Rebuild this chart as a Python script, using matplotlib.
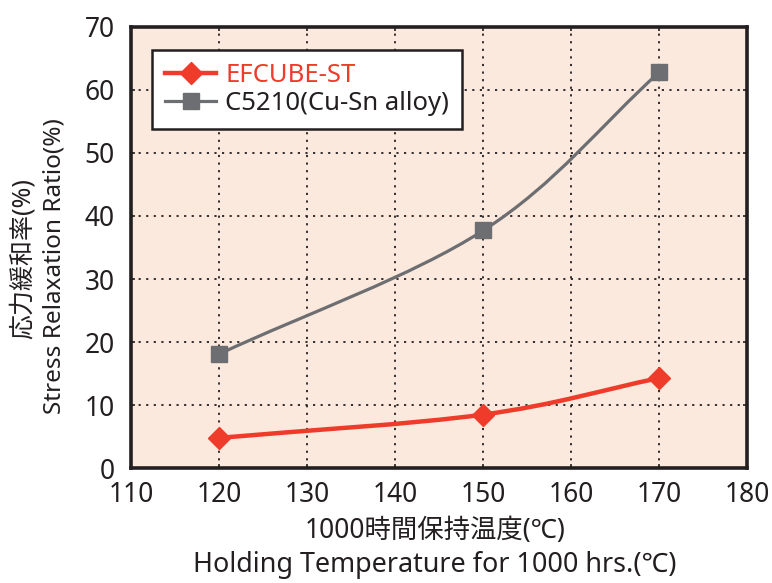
import numpy as np
import matplotlib
matplotlib.use("Agg")
import matplotlib.pyplot as plt
from matplotlib.path import Path
from matplotlib.patches import PathPatch
from matplotlib.lines import Line2D

plt.rcParams['font.family'] = ['Noto Sans', 'Noto Sans CJK JP', 'DejaVu Sans']

temps = [120, 150, 170]
efcube = [4.8, 8.5, 14.3]
c5210 = [18.1, 37.7, 62.8]

red = "#ee3b2a"
gray = "#6d6e71"
bg = "#fce9de"
ink = "#231f20"


def smooth_path(xs, ys):
    # catmull-rom through the points, drawn as cubic bezier segments
    pts = np.column_stack([xs, ys]).astype(float)
    ext = np.vstack([2 * pts[0] - pts[1], pts, 2 * pts[-1] - pts[-2]])
    verts = [tuple(pts[0])]
    codes = [Path.MOVETO]
    for i in range(1, len(ext) - 2):
        p0, p1, p2, p3 = ext[i - 1], ext[i], ext[i + 1], ext[i + 2]
        c1 = p1 + (p2 - p0) / 6.0
        c2 = p2 - (p3 - p1) / 6.0
        verts += [tuple(c1), tuple(c2), tuple(p2)]
        codes += [Path.CURVE4] * 3
    return Path(verts, codes)


fig = plt.figure(figsize=(7.72, 5.83), dpi=100)
ax = fig.add_axes([0.170, 0.197, 0.798, 0.757])
ax.set_facecolor(bg)

ax.add_patch(PathPatch(smooth_path(temps, c5210), facecolor="none",
                       edgecolor=gray, lw=2.3, zorder=3))
ax.add_patch(PathPatch(smooth_path(temps, efcube), facecolor="none",
                       edgecolor=red, lw=3.2, zorder=3))
ax.plot(temps, c5210, linestyle="none", marker="s", ms=11, color=gray, zorder=4)
ax.plot(temps, efcube, linestyle="none", marker="D", ms=11, color=red, zorder=4)

ax.set_xlim(110, 180)
ax.set_ylim(0, 70)
ax.set_xticks(range(110, 181, 10))
ax.set_yticks(range(0, 71, 10))
ax.tick_params(direction="in", length=3, width=1.2, top=True, right=True,
               labelsize=19, colors=ink)
ax.tick_params(axis="x", pad=9)
ax.tick_params(axis="y", pad=12)
ax.grid(True, color=ink, linestyle=(0, (1.2, 3)), lw=1.3)

for s in ax.spines.values():
    s.set_linewidth(2.6)
    s.set_color(ink)

# axis titles: japanese line + english line
fig.text(0.5635, 0.089, "1000時間保持温度(℃)", fontsize=19,
         ha="center", va="center", color=ink)
fig.text(0.5635, 0.031, "Holding Temperature for 1000 hrs.(℃)", fontsize=19.4,
         ha="center", va="center", color=ink)
fig.text(0.030, 0.556, "応力緩和率(%)", fontsize=18, rotation=90,
         ha="center", va="center", color=ink)
fig.text(0.071, 0.544, "Stress Relaxation Ratio(%)", fontsize=17.5, rotation=90,
         ha="center", va="center", color=ink)

handles = [
    Line2D([], [], color=red, lw=3.2, marker="D", ms=11),
    Line2D([], [], color=gray, lw=2.3, marker="s", ms=11),
]
leg = ax.legend(handles, ["EFCUBE-ST", "C5210(Cu-Sn alloy)"],
                loc="upper left", bbox_to_anchor=(0.034, 0.948),
                borderaxespad=0, fontsize=18.5, fancybox=False, framealpha=1,
                edgecolor=ink, handlelength=2.0, borderpad=0.5,
                labelspacing=0.12, handletextpad=0.35)
leg.get_frame().set_linewidth(1.8)
leg.get_texts()[0].set_color(red)
leg.get_texts()[1].set_color(ink)

fig.savefig("out.png", dpi=100)
